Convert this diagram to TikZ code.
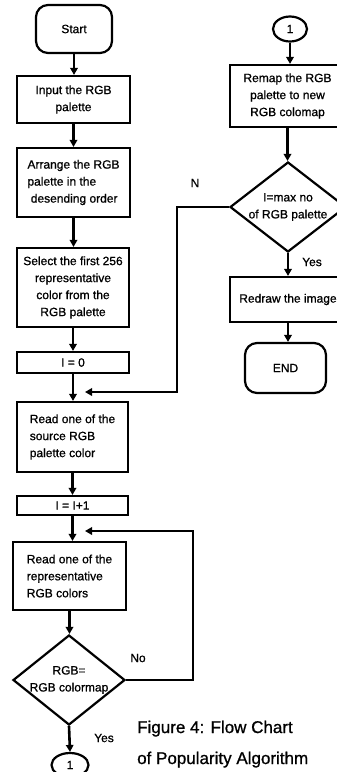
\documentclass[tikz,border=0pt]{standalone}
\usepackage{fontspec}
\setmainfont{Liberation Sans}[BoldFont=Liberation Sans,BoldFeatures={FakeBold=0.9}]
\usetikzlibrary{shapes.geometric,arrows.meta}
\begin{document}
\begin{tikzpicture}[x=1pt,y=-1pt,
  every node/.style={font=\fontsize{12}{17}\selectfont\bfseries},
  box/.style={draw,line width=2.2pt,inner sep=2pt,align=center},
  lbox/.style={box,align=left},
  term/.style={box,rounded corners=12pt},
  conn/.style={draw,ellipse,line width=2.2pt,inner sep=0pt},
  decision/.style={draw,diamond,line width=2.2pt,inner sep=0pt},
  arr/.style={line width=2.6pt,-{Triangle[length=7pt,width=7.5pt]}},
  caption/.style={font=\fontsize{17}{31}\selectfont\bfseries,anchor=base west,inner sep=0pt}]
\useasboundingbox (0,0) rectangle (337,772);
\clip (0,0) rectangle (337,772);

% left column
\node[term,minimum width=76pt,minimum height=48pt] (start) at (74,29) {Start};
\node[box,minimum width=113pt,minimum height=47pt] (input) at (73.5,99.5) {Input the RGB\\palette};
\node[lbox,minimum width=113pt,minimum height=69pt] (arrange) at (73.5,182.5) {Arrange the RGB\\palette in the\\\ desending order};
\node[box,minimum width=112pt,minimum height=79pt] (select) at (73,287.5) {Select the first 256\\representative\\color from the\\RGB palette};
\node[box,minimum width=112pt,minimum height=21pt] (izero) at (73,362.5) {I = 0};
\node[lbox,minimum width=111pt,minimum height=70pt] (rsrc) at (72.5,437) {Read one of the\\source RGB\\palette color};
\node[box,minimum width=111pt,minimum height=19pt,inner sep=0pt] (iinc) at (72.5,505.5) {I = I+1};
\node[lbox,minimum width=113pt,minimum height=68pt] (rrep) at (69.5,576) {Read one of the\\representative\\RGB colors};
\node[decision,minimum width=112pt,minimum height=90pt,
      label={[align=center]center:RGB=\\RGB colormap}] (dec1) at (69,680) {};
\node[conn,minimum width=37pt,minimum height=24pt] (conA) at (70,765) {1};

% right column
\node[conn,minimum width=34pt,minimum height=25pt] (conB) at (290,29) {1};
\node[box,minimum width=115pt,minimum height=62pt] (remap) at (287.5,96) {Remap the RGB\\palette to new\\RGB colomap};
\node[decision,minimum width=116pt,minimum height=90pt,
      label={[align=center]center:I=max no\\of RGB palette}] (dec2) at (288,207) {};
\node[box,minimum width=116pt,minimum height=45pt] (redraw) at (288,299.5) {Redraw the image};
\node[term,minimum width=81pt,minimum height=50pt] (endn) at (285.5,368) {END};

% turning points of the two loops
\coordinate (nx) at (177,0);
\coordinate (njoin) at (85,392);
\coordinate (nox) at (193,0);
\coordinate (nojoin) at (85,531);

% main flow
\draw[arr] (start.south) -- (start.south |- input.north);
\draw[arr] (input.south) -- (input.south |- arrange.north);
\draw[arr] (arrange.south) -- (arrange.south |- select.north);
\draw[arr] (select.south) -- (select.south |- izero.north);
\draw[arr] (izero.south) -- (izero.south |- rsrc.north);
\draw[arr] (rsrc.south) -- (rsrc.south |- iinc.north);
\draw[arr] (iinc.south) -- (iinc.south |- rrep.north);
\draw[arr] (rrep.south) -- (rrep.south |- dec1.north);
\draw[arr] (dec1.south) -- (conA.north);

\draw[arr] (conB.south) -- (conB.south |- remap.north);
\draw[arr] (remap.south) -- (remap.south |- dec2.north);
\draw[arr] (dec2.south) -- (dec2.south |- redraw.north);
\draw[arr] (redraw.south) -- (redraw.south |- endn.north);

% loops back
\draw[arr] (dec2.west) -- (dec2.west -| nx) |- (njoin);
\draw[arr] (dec1.east) -- (dec1.east -| nox) |- (nojoin);

% branch labels
\node (lN) at (195,183) {N};
\node (lNo) at (138,658) {No};
\node (lYesR) at (312,262) {Yes};
\node (lYesL) at (104,738) {Yes};

% caption
\node[caption] (cap1) at (137,733) {Figure 4: Flow Chart};
\node[caption] (cap2) at (137,764) {of Popularity Algorithm};
\end{tikzpicture}
\end{document}
